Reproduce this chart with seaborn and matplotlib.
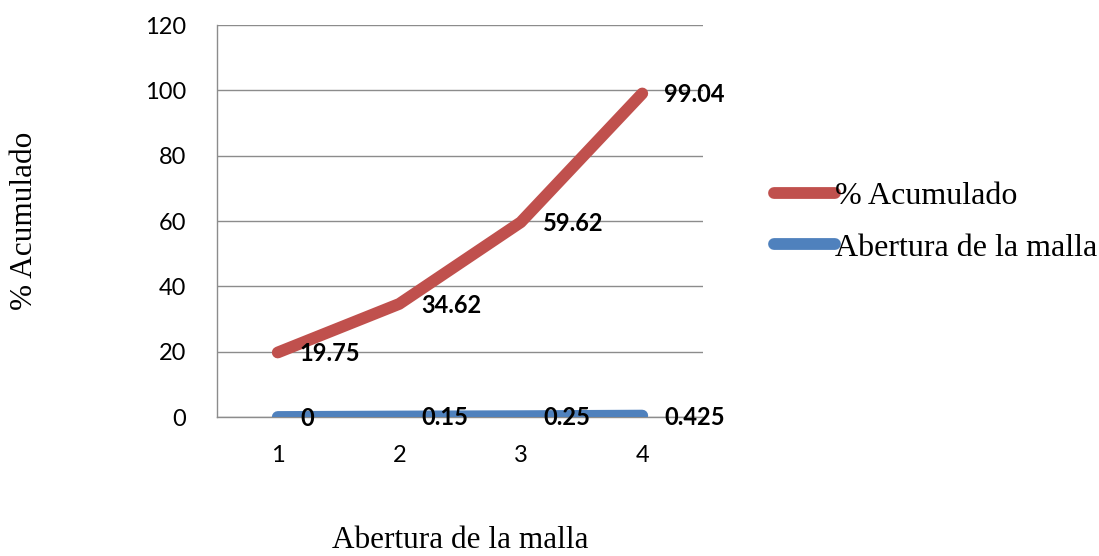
import matplotlib
matplotlib.use('Agg')
import matplotlib.pyplot as plt
import seaborn as sns
import pandas as pd

# ========== 数据 ==========
categories = [1, 2, 3, 4]
acumulado = [19.75, 34.62, 59.62, 99.04]
abertura = [0, 0.15, 0.25, 0.425]
abertura_labels = ['0', '0.15', '0.25', '0.425']
acumulado_labels = ['19.75', '34.62', '59.62', '99.04']
y_ticks = [0, 20, 40, 60, 80, 100, 120]

red = '#C0504D'
blue = '#4F81BD'
grid_gray = '#8C8C8C'

sns.set_style('white')
plt.rcParams['font.family'] = ['Lato', 'DejaVu Sans']
plt.rcParams['text.color'] = 'black'
plt.rcParams['axes.labelcolor'] = 'black'

df = pd.DataFrame({'x': categories, 'acum': acumulado, 'aber': abertura})

fig = plt.figure(figsize=(10.99, 5.56), dpi=100)
ax = fig.add_axes([217 / 1099, 1 - 417 / 556, 486 / 1099, 392 / 556])

sns.lineplot(data=df, x='x', y='acum', ax=ax, color=red, linewidth=8.5,
             solid_capstyle='round', label='% Acumulado', zorder=4)
sns.lineplot(data=df, x='x', y='aber', ax=ax, color=blue, linewidth=8.5,
             solid_capstyle='round', label='Abertura de la malla', zorder=4)

# etiquetas de datos
for x, y, t in zip(categories, acumulado, acumulado_labels):
    ax.annotate(t, (x, y), xytext=(16, -1), textcoords='offset points',
                ha='left', va='center', fontsize=17, fontweight='bold',
                color='black', zorder=5)
for x, y, t in zip(categories, abertura, abertura_labels):
    ax.annotate(t, (x, y), xytext=(16, -1), textcoords='offset points',
                ha='left', va='center', fontsize=17, fontweight='bold',
                color='black', zorder=5)

ax.set_xlim(0.5, 4.5)
ax.set_ylim(0, 120)
ax.set_yticks(y_ticks)
ax.set_xticks(categories)
ax.set_xticks([1.5, 2.5, 3.5, 4.5], minor=True)
ax.tick_params(axis='x', which='major', length=0, pad=20, labelsize=17, labelcolor='black')
ax.tick_params(axis='x', which='minor', length=6, width=1, color=grid_gray, direction='out')
ax.tick_params(axis='y', which='major', length=6, width=1, color=grid_gray, direction='out',
               pad=16, labelsize=17, labelcolor='black')

ax.grid(axis='y', color=grid_gray, linewidth=1)
ax.grid(axis='x', visible=False)
ax.set_axisbelow(True)
for s in ['top', 'right']:
    ax.spines[s].set_visible(False)
for s in ['left', 'bottom']:
    ax.spines[s].set_color(grid_gray)
    ax.spines[s].set_linewidth(1)

serif = ['Liberation Serif', 'DejaVu Serif']
ax.set_xlabel('Abertura de la malla', fontsize=22.5, family=serif)
ax.set_ylabel('% Acumulado', fontsize=22.5, family=serif)
ax.xaxis.set_label_coords(0.5, -0.278)
ax.yaxis.set_label_coords(-0.366, 0.5)

leg = ax.legend(loc='center left', bbox_to_anchor=(557 / 486, (417 - 222) / 392),
                frameon=False, prop={'family': serif, 'size': 23},
                handlelength=1.9, handletextpad=0.0, labelspacing=0.7, borderpad=0,
                borderaxespad=0)
for txt in leg.get_texts():
    txt.set_color('black')

plt.savefig('out.png', dpi=100)
plt.close()
